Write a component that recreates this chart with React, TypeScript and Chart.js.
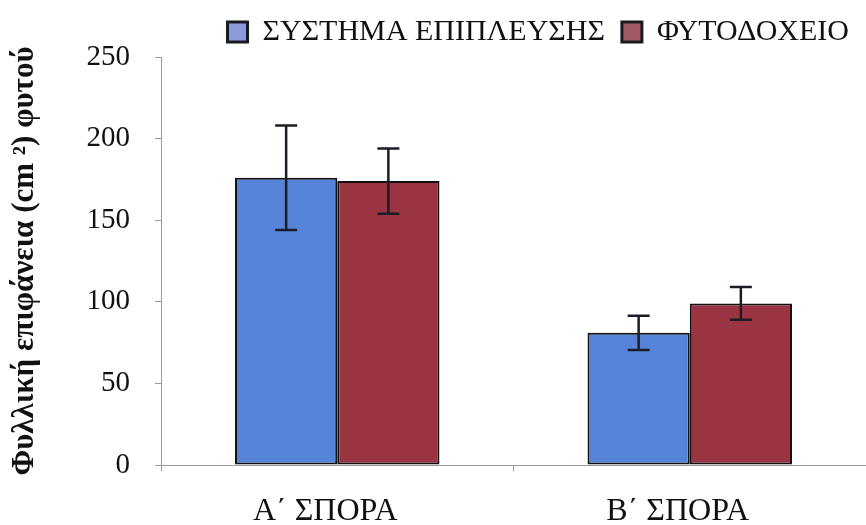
import React, { useEffect, useRef } from "react";
import { Chart, registerables } from "chart.js";

Chart.register(...registerables);

const categories = ["Α΄ ΣΠΟΡΑ", "Β΄ ΣΠΟΡΑ"];
const seriesNames = ["ΣΥΣΤΗΜΑ ΕΠΙΠΛΕΥΣΗΣ", "ΦΥΤΟΔΟΧΕΙΟ"];
const floatingSystem = [176, 81];
const floatingSystemErr = [32, 10.5];
const potValues = [174, 99];
const potErr = [20, 10];
const yTicks = [0, 50, 100, 150, 200, 250];
const yTitle = "Φυλλική επιφάνεια (cm ²) φυτού";

const FONT = "'Liberation Serif', 'Times New Roman', serif";

const errorBarPlugin = {
  id: "errorBars",
  afterDatasetsDraw(chart: any) {
    const ctx = chart.ctx;
    const y = chart.scales.y;
    chart.data.datasets.forEach((ds: any, i: number) => {
      const meta = chart.getDatasetMeta(i);
      meta.data.forEach((bar: any, j: number) => {
        const v = ds.data[j];
        const e = ds.errors[j];
        const x = bar.x;
        const top = y.getPixelForValue(v + e);
        const bot = y.getPixelForValue(v - e);
        ctx.save();
        ctx.strokeStyle = "#1c1c28";
        ctx.lineWidth = 2.5;
        ctx.beginPath();
        ctx.moveTo(x, top);
        ctx.lineTo(x, bot);
        ctx.moveTo(x - 11, top);
        ctx.lineTo(x + 11, top);
        ctx.moveTo(x - 11, bot);
        ctx.lineTo(x + 11, bot);
        ctx.stroke();
        ctx.restore();
      });
    });
  },
};

const legendHeightPlugin = {
  id: "legendHeight",
  beforeInit(chart: any) {
    const lg = chart.legend;
    if (lg) {
      const f = lg.fit;
      lg.fit = function () {
        f.call(this);
        this.height = 57;
      };
    }
  },
};

export default function App() {
  const ref = useRef<HTMLCanvasElement | null>(null);

  useEffect(() => {
    if (!ref.current) return;
    const chart = new Chart(ref.current, {
      type: "bar",
      data: {
        labels: categories,
        datasets: [
          {
            label: seriesNames[0],
            data: floatingSystem,
            errors: floatingSystemErr,
            backgroundColor: "#5684D9",
            borderColor: "#111111",
            borderWidth: 2,
            borderSkipped: false,
          } as any,
          {
            label: seriesNames[1],
            data: potValues,
            errors: potErr,
            backgroundColor: "#9A3442",
            borderColor: "#111111",
            borderWidth: 2,
            borderSkipped: false,
          } as any,
        ],
      },
      options: {
        animation: false,
        responsive: false,
        maintainAspectRatio: false,
        layout: { padding: { left: 0, right: 0, top: 0, bottom: 0 } },
        datasets: {
          bar: { categoryPercentage: 0.58, barPercentage: 1 },
        },
        plugins: {
          tooltip: { enabled: false },
          legend: {
            position: "top",
            align: "end",
            labels: {
              font: { family: FONT, size: 30 },
              color: "#111111",
              boxWidth: 20,
              boxHeight: 20,
              padding: 17,
              generateLabels: () => [
                {
                  text: seriesNames[0],
                  fillStyle: "#8A9CDA",
                  strokeStyle: "#1a1a22",
                  lineWidth: 3,
                  datasetIndex: 0,
                  fontColor: "#111111",
                },
                {
                  text: seriesNames[1],
                  fillStyle: "#A35A66",
                  strokeStyle: "#1a1a22",
                  lineWidth: 3,
                  datasetIndex: 1,
                  fontColor: "#111111",
                },
              ],
            },
          },
        },
        scales: {
          x: {
            afterFit: (s: any) => {
              s.height = 60;
            },
            grid: {
              drawOnChartArea: false,
              drawTicks: true,
              tickLength: 6,
              color: "#9a9a9a",
            },
            border: { color: "#9a9a9a", width: 1 },
            ticks: {
              font: { family: FONT, size: 32 },
              color: "#111111",
              padding: 21,
              labelOffset: -12,
            },
          },
          y: {
            min: 0,
            max: 250,
            afterFit: (s: any) => {
              s.width = 161;
            },
            afterBuildTicks: (s: any) => {
              s.ticks = yTicks.map((v) => ({ value: v }));
            },
            grid: {
              drawOnChartArea: false,
              drawTicks: true,
              tickLength: 6,
              color: "#9a9a9a",
            },
            border: { color: "#9a9a9a", width: 1 },
            ticks: {
              font: { family: FONT, size: 29 },
              color: "#111111",
              padding: 25,
            },
            title: {
              display: true,
              text: yTitle,
              font: { family: FONT, size: 31, weight: "bold" },
              color: "#111111",
              padding: { top: 6, bottom: 0 },
            },
          },
        },
      },
      plugins: [errorBarPlugin, legendHeightPlugin],
    } as any);
    return () => chart.destroy();
  }, []);

  return (
    <div
      style={{
        position: "absolute",
        left: 0,
        top: 0,
        width: 866,
        height: 525,
        background: "#ffffff",
        overflow: "hidden",
      }}
    >
      <canvas ref={ref} width={866} height={525} style={{ display: "block" }} />
    </div>
  );
}
